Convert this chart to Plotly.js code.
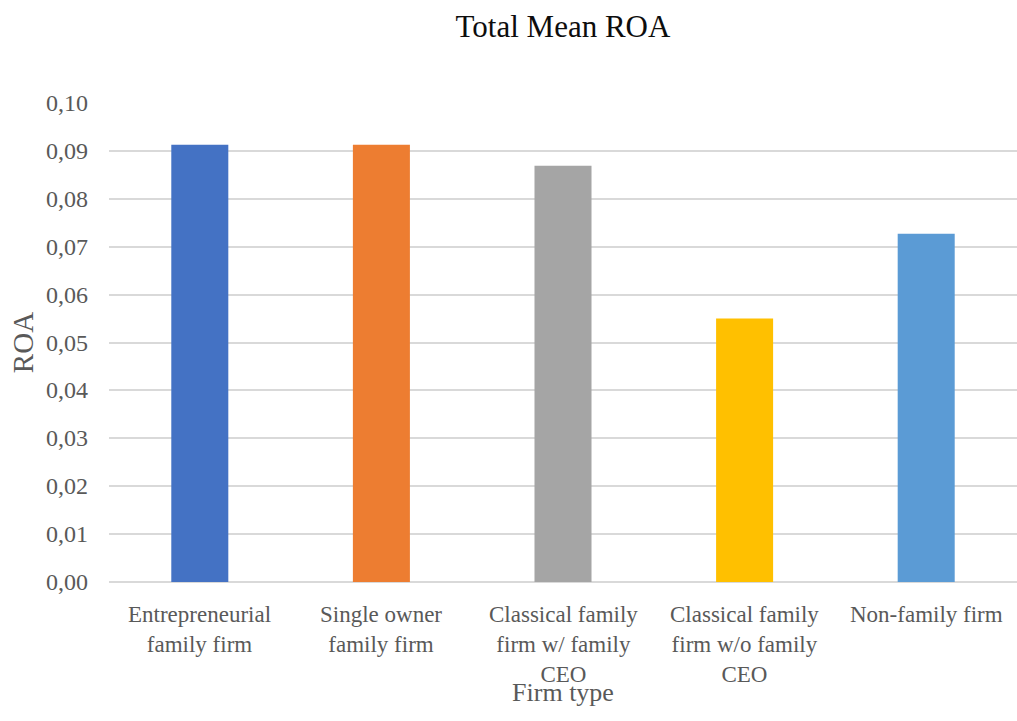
<!DOCTYPE html>
<html>
<head>
<meta charset="utf-8">
<script src="https://cdn.plot.ly/plotly-3.0.1.min.js"></script>
<style>
html,body{margin:0;padding:0;background:#fff;}
#chart{width:1017px;height:721px;}
</style>
</head>
<body>
<div id="chart"></div>
<script>
const categories = [
  "Entrepreneurial<br>family firm",
  "Single owner<br>family firm",
  "Classical family<br>firm w/ family<br>CEO",
  "Classical family<br>firm w/o family<br>CEO",
  "Non-family firm"
];
const roaValues = [0.0913, 0.0913, 0.0869, 0.0550, 0.0727];
const barColors = ["#4472C4", "#ED7D31", "#A5A5A5", "#FFC000", "#5B9BD5"];
const yTickValues = [0, 0.01, 0.02, 0.03, 0.04, 0.05, 0.06, 0.07, 0.08, 0.09, 0.10];
const yTickLabels = ["0,00", "0,01", "0,02", "0,03", "0,04", "0,05", "0,06", "0,07", "0,08", "0,09", "0,10"];

const FONT = "Liberation Serif";
const GREY = "#595959";

// tick labels drawn as annotations placed through the axes' own scales
const xLabelAnnotations = categories.map(c => ({
  x: c, xref: "x", y: 0, yref: "paper",
  text: c, showarrow: false,
  xanchor: "center", yanchor: "top", yshift: -18, align: "center",
  font: {family: FONT, size: 23, color: GREY}
}));
const yLabelAnnotations = yTickValues.map((v, i) => ({
  x: 0, xref: "paper", y: v, yref: "y",
  text: yTickLabels[i], showarrow: false,
  xanchor: "right", yanchor: "middle", xshift: -19,
  font: {family: FONT, size: 24, color: GREY}
}));

Plotly.newPlot("chart", [{
  type: "bar",
  x: categories,
  y: roaValues,
  marker: {color: barColors, line: {width: 0}},
  hoverinfo: "x+y"
}], {
  width: 1017,
  height: 721,
  font: {family: FONT, size: 23, color: GREY},
  paper_bgcolor: "#ffffff",
  plot_bgcolor: "#ffffff",
  separators: ",.",
  margin: {l: 109, r: 0, t: 103, b: 139, pad: 0},
  bargap: 0.686,
  showlegend: false,
  title: {
    text: "Total Mean ROA",
    font: {family: FONT, size: 31, color: "#0d0d0d"},
    x: 0.5, xref: "paper", xanchor: "center",
    y: 1 - 26/721, yref: "container", yanchor: "middle"
  },
  annotations: xLabelAnnotations.concat(yLabelAnnotations),
  xaxis: {
    type: "category",
    showticklabels: false,
    ticks: "",
    showline: false,
    showgrid: false,
    zeroline: false,
    automargin: false,
    title: {text: "Firm type", font: {family: FONT, size: 26, color: GREY}, standoff: 100}
  },
  yaxis: {
    range: [0, 0.1],
    tickvals: yTickValues,
    showticklabels: false,
    ticks: "",
    showline: false,
    showgrid: true,
    gridcolor: "#d9d9d9",
    gridwidth: 1.5,
    zeroline: true,
    zerolinecolor: "#d9d9d9",
    zerolinewidth: 1.5,
    automargin: false,
    title: {text: "ROA", font: {family: FONT, size: 29, color: GREY}, standoff: 65}
  }
}, {displayModeBar: false});
</script>
</body>
</html>
